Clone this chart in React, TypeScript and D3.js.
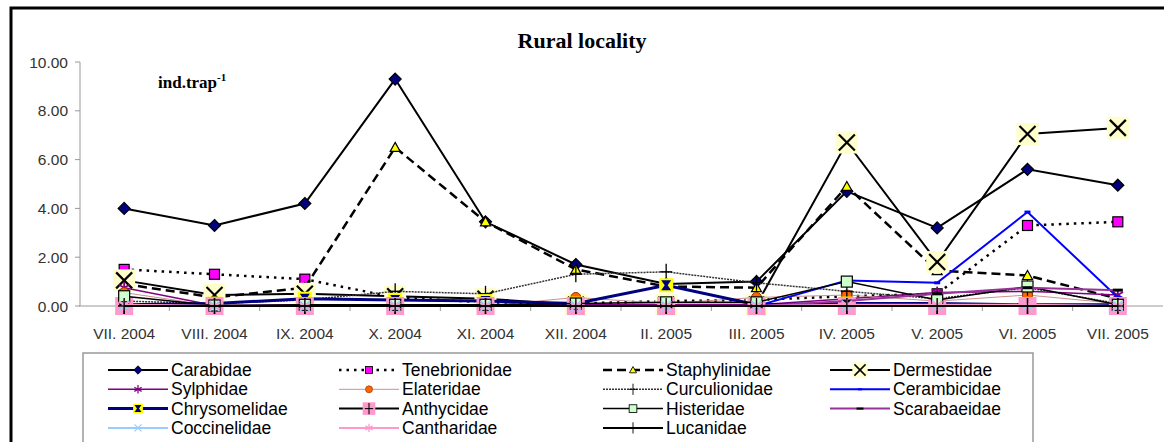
import React, { useEffect, useRef } from 'react';
import * as d3 from 'd3';

const months = ['VII. 2004', 'VIII. 2004', 'IX. 2004', 'X. 2004', 'XI. 2004', 'XII. 2004', 'II. 2005', 'III. 2005', 'IV. 2005', 'V. 2005', 'VI. 2005', 'VII. 2005'];
const yTicks = [0, 2, 4, 6, 8, 10];

const carabidae = [4.0, 3.3, 4.2, 9.3, 3.45, 1.7, 0.9, 1.0, 4.7, 3.2, 5.6, 4.95];
const tenebrionidae = [1.5, 1.3, 1.1, 0.35, 0.15, 0.1, 0.2, 0.25, 0.4, 0.5, 3.3, 3.45];
const staphylinidae = [0.9, 0.35, 0.75, 6.5, 3.45, 1.5, 0.8, 0.75, 4.9, 1.45, 1.25, 0.3];
const dermestidae = [1.05, 0.45, 0.5, 0.4, 0.3, 0.05, 0.05, 0.05, 6.7, 1.8, 7.05, 7.3];
const sylphidae = [0.75, 0.02, 0.05, 0.05, 0.05, 0.05, 0.05, 0.05, 0.3, 0.55, 0.6, 0.45];
const elateridae = [0.55, 0, 0, 0, 0, 0.35, 0.1, 0.35, 0.45, 0.2, 0.45, 0.1];
const curculionidae = [0.2, 0.1, 0.25, 0.6, 0.5, 1.3, 1.4, 0.95, 0.6, 0.3, 0.75, 0.1];
const cerambicidae = [0, 0, 0, 0, 0, 0, 0, 0, 1.05, 0.95, 3.85, 0.35];
const chrysomelidae = [0.05, 0.1, 0.3, 0.25, 0.2, 0.1, 0.85, 0.05, 0.1, 0.1, 0.05, 0.05];
const anthycidae = [0, 0, 0, 0, 0, 0, 0, 0, 0, 0, 0, 0];
const histeridae = [0.4, 0.02, 0.05, 0.05, 0.05, 0.1, 0.15, 0.15, 1.0, 0.25, 0.8, 0.05];
const scarabaeidae = [0.05, 0, 0, 0, 0, 0, 0, 0, 0.2, 0.5, 0.75, 0.65];
const coccinelidae = [0.02, 0, 0, 0, 0, 0, 0, 0, 0.02, 0.02, 0.02, 0];
const cantharidae = [0.05, 0, 0, 0, 0, 0, 0, 0, 0.05, 0.05, 0.05, 0];
const lucanidae = [0, 0, 0, 0, 0, 0, 0, 0, 0, 0, 0, 0];

const series = [
  { name: 'Carabidae', values: carabidae, color: '#000', width: 2, dash: null, marker: 'diamond' },
  { name: 'Tenebrionidae', values: tenebrionidae, color: '#000', width: 2.5, dash: '2.5,5', marker: 'square' },
  { name: 'Staphylinidae', values: staphylinidae, color: '#000', width: 2.5, dash: '9,5', marker: 'triangle' },
  { name: 'Dermestidae', values: dermestidae, color: '#000', width: 2, dash: null, marker: 'bigx' },
  { name: 'Sylphidae', values: sylphidae, color: '#800080', width: 1.5, dash: null, marker: 'star' },
  { name: 'Elateridae', values: elateridae, color: '#cc8f8f', width: 1, dash: null, marker: 'circle' },
  { name: 'Curculionidae', values: curculionidae, color: '#333', width: 1.5, dash: '2,1', marker: 'plus' },
  { name: 'Cerambicidae', values: cerambicidae, color: '#0000ff', width: 2, dash: null, marker: 'bluedash' },
  { name: 'Chrysomelidae', values: chrysomelidae, color: '#000080', width: 3, dash: null, marker: 'hourglass' },
  { name: 'Anthycidae', values: anthycidae, color: '#000', width: 2, dash: null, marker: 'pinkplus' },
  { name: 'Histeridae', values: histeridae, color: '#000', width: 1.5, dash: null, marker: 'greensquare' },
  { name: 'Scarabaeidae', values: scarabaeidae, color: '#993399', width: 2, dash: null, marker: 'blackdash' },
  { name: 'Coccinelidae', values: coccinelidae, color: '#99ccff', width: 2, dash: null, marker: 'lightx' },
  { name: 'Cantharidae', values: cantharidae, color: '#ff99cc', width: 2, dash: null, marker: 'pinkstar' },
  { name: 'Lucanidae', values: lucanidae, color: '#000', width: 2, dash: null, marker: 'plus' }
];

// excel-like marker shapes; k scales them down for the legend
const drawMarker = (g: any, type: string, x: number, y: number, k = 1) => {
  const m = g.append('g').attr('transform', `translate(${x},${y}) scale(${k})`);
  const line = (x1: number, y1: number, x2: number, y2: number, c: string, w: number) =>
    m.append('line').attr('x1', x1).attr('y1', y1).attr('x2', x2).attr('y2', y2).attr('stroke', c).attr('stroke-width', w);
  const star = (c: string, r: number) => {
    line(0, -r, 0, r, c, 1.8);
    line(-r * 0.87, -r / 2, r * 0.87, r / 2, c, 1.8);
    line(-r * 0.87, r / 2, r * 0.87, -r / 2, c, 1.8);
  };
  switch (type) {
    case 'diamond':
      m.append('path').attr('d', 'M0,-6L6,0L0,6L-6,0Z').attr('fill', '#000080').attr('stroke', '#000').attr('stroke-width', 1.2);
      break;
    case 'square':
      m.append('rect').attr('x', -5).attr('y', -5).attr('width', 10).attr('height', 10).attr('fill', '#ff00ff').attr('stroke', '#000').attr('stroke-width', 1.2);
      break;
    case 'triangle':
      m.append('path').attr('d', 'M0,-5L5,4L-5,4Z').attr('fill', '#ffff00').attr('stroke', '#000').attr('stroke-width', 1.2);
      break;
    case 'bigx':
      m.append('rect').attr('x', -11).attr('y', -11).attr('width', 22).attr('height', 22).attr('fill', '#ffffcc');
      line(-8, -8, 8, 8, '#000', 2.2);
      line(-8, 8, 8, -8, '#000', 2.2);
      break;
    case 'star':
      star('#800080', 6);
      break;
    case 'circle':
      m.append('circle').attr('r', 5).attr('fill', '#ff6600').attr('stroke', '#993300').attr('stroke-width', 1);
      break;
    case 'plus':
      line(-6, 0, 6, 0, '#000', 1.3);
      line(0, -8, 0, 8, '#000', 1.3);
      break;
    case 'bluedash':
      line(-3, 0, 3, 0, '#0000ff', 3);
      break;
    case 'hourglass':
      m.append('rect').attr('x', -7).attr('y', -7).attr('width', 14).attr('height', 14).attr('fill', '#ffff00');
      m.append('path').attr('d', 'M-5,-5L5,-5L1.5,0L5,5L-5,5L-1.5,0Z').attr('fill', '#000080');
      break;
    case 'pinkplus':
      m.append('rect').attr('x', -9).attr('y', -9).attr('width', 18).attr('height', 18).attr('fill', '#ff99cc');
      line(-6, 0, 6, 0, '#000', 1.5);
      line(0, -8, 0, 8, '#000', 1.5);
      break;
    case 'greensquare':
      m.append('rect').attr('x', -5.5).attr('y', -5.5).attr('width', 11).attr('height', 11).attr('fill', '#ccffcc').attr('stroke', '#000').attr('stroke-width', 1.2);
      break;
    case 'blackdash':
      line(-5, 0, 5, 0, '#000', 3);
      break;
    case 'lightx':
      line(-5, -5, 5, 5, '#99ccff', 1.8);
      line(-5, 5, 5, -5, '#99ccff', 1.8);
      break;
    case 'pinkstar':
      star('#ff99cc', 6);
      break;
  }
};

const App = () => {
  const chartRef = useRef<SVGSVGElement>(null);

  useEffect(() => {
    const width = 1164;
    const height = 442;
    const svg = d3.select(chartRef.current);
    svg.selectAll('*').remove();
    svg.attr('width', width).attr('height', height);

    svg.append('rect').attr('width', width).attr('height', height).attr('fill', '#fff');
    // outer frame
    svg.append('rect').attr('x', 11).attr('y', 8).attr('width', 1170).attr('height', 460)
      .attr('fill', 'none').attr('stroke', '#000').attr('stroke-width', 3);

    const x = d3.scalePoint().domain(months).range([79, 1163]).padding(0.5);
    const y = d3.scaleLinear().domain([0, 10]).range([306, 62]);
    const step = x.step();

    // y axis
    svg.append('line').attr('x1', 80).attr('x2', 80).attr('y1', y(10)).attr('y2', y(0)).attr('stroke', '#999').attr('stroke-width', 1);
    yTicks.forEach(t => {
      svg.append('line').attr('x1', 75).attr('x2', 80).attr('y1', y(t)).attr('y2', y(t)).attr('stroke', '#999');
      svg.append('text').attr('x', 68).attr('y', y(t) + 5.5).attr('text-anchor', 'end')
        .style('font-family', 'Liberation Sans, Arial, sans-serif').style('font-size', '15.5px').style('fill', '#333')
        .text(d3.format('.2f')(t));
    });

    // x axis
    svg.append('line').attr('x1', 79).attr('x2', 1163).attr('y1', y(0)).attr('y2', y(0)).attr('stroke', '#999').attr('stroke-width', 1);
    months.forEach((m, i) => {
      const bx = (x(m) as number) - step / 2;
      if (i > 0) svg.append('line').attr('x1', bx).attr('x2', bx).attr('y1', y(0)).attr('y2', y(0) + 5).attr('stroke', '#999');
      svg.append('text').attr('x', x(m) as number).attr('y', 339).attr('text-anchor', 'middle')
        .style('font-family', 'Liberation Sans, Arial, sans-serif').style('font-size', '15.5px').style('fill', '#333')
        .text(m);
    });

    // title
    svg.append('text').attr('x', 582).attr('y', 48).attr('text-anchor', 'middle')
      .style('font-family', 'Liberation Serif, Times New Roman, serif').style('font-size', '22px').style('font-weight', 'bold')
      .text('Rural locality');
    const unit = svg.append('text').attr('x', 158).attr('y', 88)
      .style('font-family', 'Liberation Serif, Times New Roman, serif').style('font-size', '17px').style('font-weight', 'bold');
    unit.append('tspan').text('ind.trap');
    unit.append('tspan').attr('dy', -7).style('font-size', '11px').text('-1');

    const lineGen = d3.line<number>().x((_, i) => x(months[i]) as number).y(d => y(d));
    const plot = svg.append('g');
    series.forEach(s => {
      plot.append('path').datum(s.values).attr('d', lineGen).attr('fill', 'none')
        .attr('stroke', s.color).attr('stroke-width', s.width)
        .attr('stroke-dasharray', s.dash);
      s.values.forEach((v, i) => drawMarker(plot, s.marker, x(months[i]) as number, y(v)));
    });

    // legend
    svg.append('rect').attr('x', 83).attr('y', 353).attr('width', 950).attr('height', 120)
      .attr('fill', '#fff').attr('stroke', '#999').attr('stroke-width', 1.5);
    const colX = [108, 339, 603, 830];
    series.forEach((s, i) => {
      const cx = colX[i % 4];
      const cy = 370 + Math.floor(i / 4) * 19.3;
      svg.append('line').attr('x1', cx).attr('x2', cx + 60).attr('y1', cy).attr('y2', cy)
        .attr('stroke', s.color).attr('stroke-width', s.width).attr('stroke-dasharray', s.dash);
      drawMarker(svg, s.marker, cx + 30, cy, 0.7);
      svg.append('text').attr('x', cx + 63).attr('y', cy + 6)
        .style('font-family', 'Liberation Sans, Arial, sans-serif').style('font-size', '17.5px').style('fill', '#000')
        .text(s.name);
    });
  }, []);

  return (
    <div style={{ position: 'absolute', left: 0, top: 0 }}>
      <svg ref={chartRef} style={{ display: 'block' }}></svg>
    </div>
  );
};

export default App;
